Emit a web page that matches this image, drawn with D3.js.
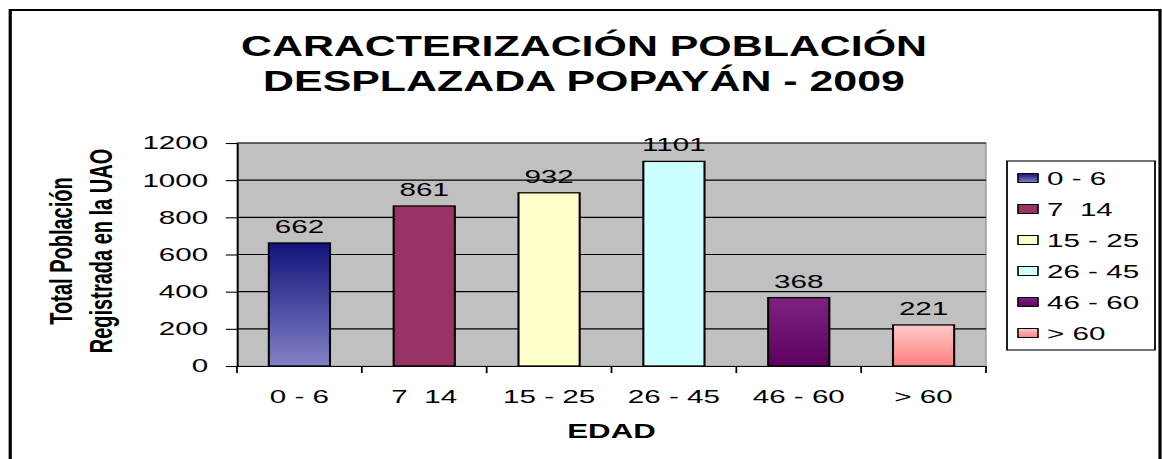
<!DOCTYPE html>
<html>
<head>
<meta charset="utf-8">
<script src="https://cdn.jsdelivr.net/npm/d3@7"></script>
<style>
	html, body { margin: 0; padding: 0; background: #fff; }
	svg { display: block; }
	text { font-family: "Liberation Sans", Arial, sans-serif; fill: #000; }
</style>
</head>
<body>
<div id="chart"></div>
<script>
const W = 1162;
const H = 459;
// the original picture is stretched sideways, so we draw in narrower units and let the viewBox widen it
const SX = 1.6;
const LW = W / SX;
// the title is stretched less than the rest
const TITLE_SX = 1.43;

const TITLE = ["CARACTERIZACIÓN POBLACIÓN", "DESPLAZADA POPAYÁN - 2009"];
const Y_TITLE = ["Total Población", "Registrada en la UAO"];
const X_TITLE = "EDAD";

const CATEGORIES = ["0 - 6", "7  14", "15 - 25", "26 - 45", "46 - 60", "> 60"];
const VALUES = [662, 861, 932, 1101, 368, 221];
const Y_TICKS = [0, 200, 400, 600, 800, 1000, 1200];
const COLOR_TOP = ["#12127a", "#993366", "#ffffcc", "#ccffff", "#7e2280", "#ffc8c8"];
const COLOR_BOTTOM = ["#8282c6", "#993366", "#ffffcc", "#ccffff", "#5e005e", "#ff8080"];

function drawChart() {
	const svg = d3.select("#chart").append("svg")
		.attr("width", W)
		.attr("height", H)
		.attr("viewBox", `0 0 ${LW} ${H}`)
		.attr("preserveAspectRatio", "none");

	const defs = svg.append("defs");
	CATEGORIES.forEach((c, i) => {
		const g = defs.append("linearGradient")
			.attr("id", "grad" + i)
			.attr("x1", 0).attr("y1", 0).attr("x2", 0).attr("y2", 1);
		g.append("stop").attr("offset", "0%").attr("stop-color", COLOR_TOP[i]);
		g.append("stop").attr("offset", "100%").attr("stop-color", COLOR_BOTTOM[i]);
	});

	// outer frame (bottom edge runs off the picture)
	svg.append("rect")
		.attr("x", 6.4).attr("y", 10)
		.attr("width", 725 - 6.4).attr("height", 480)
		.attr("fill", "#fff")
		.attr("stroke", "#000")
		.attr("stroke-width", 2);

	// title
	svg.append("g")
		.attr("transform", `translate(${584 / SX},0) scale(${TITLE_SX / SX},1)`)
		.selectAll("text")
		.data(TITLE)
		.enter().append("text")
		.attr("x", 0)
		.attr("y", (d, i) => 56 + i * 35)
		.attr("text-anchor", "middle")
		.style("font-size", "30px")
		.style("font-weight", "bold")
		.text((d) => d);

	const x0 = 237 / SX, x1 = 986 / SX;
	const y0 = 366, y1 = 143;

	const x = d3.scaleBand()
		.domain(CATEGORIES)
		.range([x0, x1])
		.paddingInner(0.51)
		.paddingOuter(0.255);
	const xCell = d3.scaleBand()
		.domain(CATEGORIES)
		.range([x0, x1])
		.padding(0);
	const y = d3.scaleLinear()
		.domain([0, 1200])
		.range([y0, y1]);

	// plot area
	svg.append("rect")
		.attr("x", x0).attr("y", y1)
		.attr("width", x1 - x0).attr("height", y0 - y1)
		.attr("fill", "#c0c0c0")
		.attr("stroke", "#909090")
		.attr("stroke-width", 0.8);

	svg.append("g").selectAll("line")
		.data(Y_TICKS.slice(1))
		.enter().append("line")
		.attr("x1", x0).attr("x2", x1)
		.attr("y1", (d) => y(d)).attr("y2", (d) => y(d))
		.attr("stroke", "#000")
		.attr("stroke-width", 1.1);

	// bars
	svg.append("g").selectAll("rect")
		.data(VALUES)
		.enter().append("rect")
		.attr("x", (d, i) => x(CATEGORIES[i]))
		.attr("y", (d) => y(d))
		.attr("width", x.bandwidth())
		.attr("height", (d) => y0 - y(d))
		.attr("fill", (d, i) => `url(#grad${i})`)
		.attr("stroke", "#000")
		.attr("stroke-width", 1.3);

	// value labels
	svg.append("g").selectAll("text")
		.data(VALUES)
		.enter().append("text")
		.attr("x", (d, i) => x(CATEGORIES[i]) + x.bandwidth() / 2)
		.attr("y", (d) => y(d) - 10)
		.attr("text-anchor", "middle")
		.style("font-size", "18.5px")
		.text((d) => d);

	// y axis
	const yAxis = svg.append("g")
		.attr("transform", `translate(${x0},0)`)
		.call(d3.axisLeft(y).tickValues(Y_TICKS).tickFormat(d3.format("d"))
			.tickSize(7).tickSizeOuter(0).tickPadding(11));
	yAxis.selectAll("path, line").attr("stroke", "#000").attr("stroke-width", 1.1);
	yAxis.selectAll("text")
		.style("font-size", "18.5px")
		.style("font-family", "\"Liberation Sans\", Arial, sans-serif")
		.attr("fill", "#000");

	// x axis
	const xAxis = svg.append("g")
		.attr("transform", `translate(0,${y0})`)
		.call(d3.axisBottom(xCell).tickSize(0).tickSizeOuter(0).tickPadding(24));
	xAxis.select("path").attr("stroke", "#000").attr("stroke-width", 1.1);
	xAxis.selectAll("text")
		.style("font-size", "18.5px")
		.style("font-family", "\"Liberation Sans\", Arial, sans-serif")
		.style("white-space", "pre")
		.attr("fill", "#000");

	// tick marks between categories
	const bounds = CATEGORIES.map((c) => xCell(c)).concat([x1]);
	svg.append("g").selectAll("line")
		.data(bounds)
		.enter().append("line")
		.attr("x1", (d) => d).attr("x2", (d) => d)
		.attr("y1", y0).attr("y2", y0 + 7)
		.attr("stroke", "#000")
		.attr("stroke-width", 1.1);

	// axis titles
	svg.append("text")
		.attr("x", (x0 + x1) / 2)
		.attr("y", 438)
		.attr("text-anchor", "middle")
		.style("font-size", "19.5px")
		.style("font-weight", "bold")
		.text(X_TITLE);

	svg.append("g").selectAll("text")
		.data(Y_TITLE)
		.enter().append("text")
		.attr("transform", (d, i) => `translate(${[44.8, 69.8][i]},251) rotate(-90)`)
		.attr("text-anchor", "middle")
		.style("font-size", "20px")
		.style("font-weight", "bold")
		.text((d) => d);

	// legend
	const legend = svg.append("g");
	legend.append("rect")
		.attr("x", 1007 / SX).attr("y", 161)
		.attr("width", (1155 - 1007) / SX).attr("height", 189)
		.attr("fill", "#fff")
		.attr("stroke", "#000")
		.attr("stroke-width", 1.1);
	const item = legend.selectAll("g.item")
		.data(CATEGORIES)
		.enter().append("g")
		.attr("class", "item")
		.attr("transform", (d, i) => `translate(0,${178 + i * 31})`);
	item.append("rect")
		.attr("x", 1018 / SX).attr("y", -4.5)
		.attr("width", 20 / SX).attr("height", 9)
		.attr("fill", (d, i) => `url(#grad${i})`)
		.attr("stroke", "#000")
		.attr("stroke-width", 1);
	item.append("text")
		.attr("x", 1047 / SX)
		.attr("y", 6.6)
		.style("font-size", "18.5px")
		.style("white-space", "pre")
		.text((d) => d);
}

document.addEventListener("DOMContentLoaded", () => {
	drawChart();
});
</script>
</body>
</html>
